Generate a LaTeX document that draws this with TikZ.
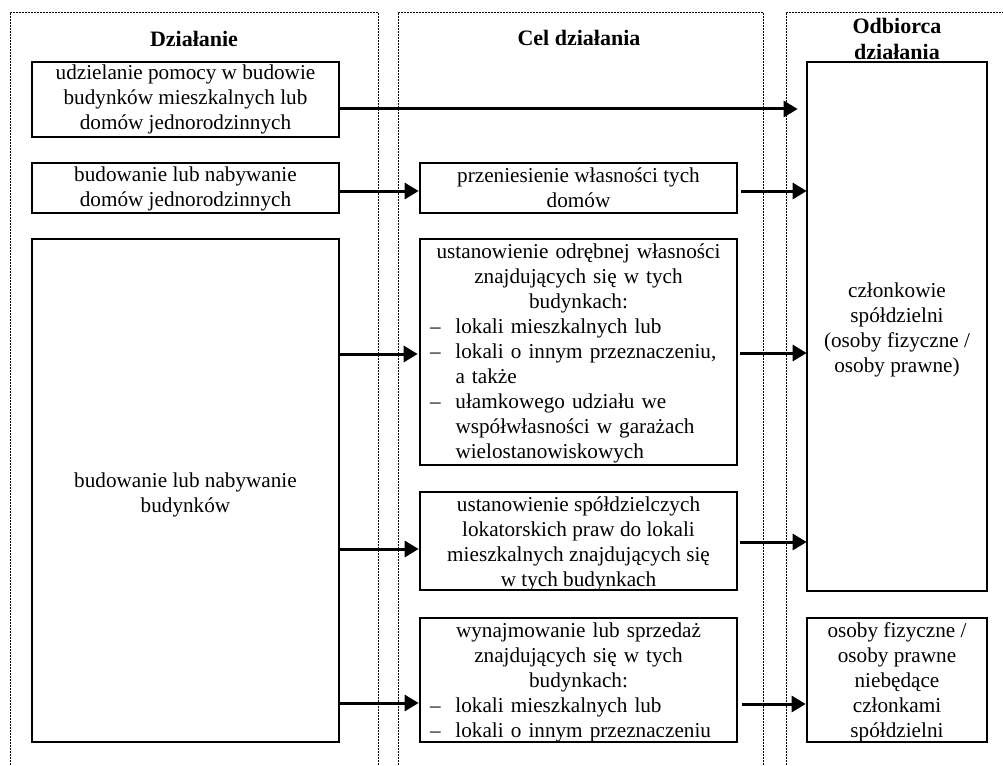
\documentclass[tikz,border=0pt]{standalone}
\usepackage{fontspec}
\setmainfont{Liberation Serif}
\usetikzlibrary{arrows.meta,calc}
\newcommand\listitem[1]{\makebox[300pt][l]{\hspace*{1.5pt}\makebox[25.5pt][l]{–}#1}}
\newcommand\listcont[1]{\makebox[300pt][l]{\hspace*{27pt}#1}}
\begin{document}
\begin{tikzpicture}[x=1pt,y=-1pt,
  box/.style={draw, line width=2.7pt, inner sep=0pt},
  txt/.style={inner sep=0pt, align=center, font=\fontsize{21.2}{25}\selectfont},
  head/.style={inner sep=0pt, align=center, font=\fontsize{22}{26}\selectfont\bfseries},
  arr/.style={line width=3pt, -{Triangle[length=14pt,width=16pt]}},
  col/.style={line width=0.9pt, dash pattern=on 2pt off 1pt}]
\useasboundingbox (0,0) rectangle (1003,765);
\fill[white] (0,0) rectangle (1003,765);

% columns
\draw[col] (10,765) -- (10,12) -- (378,12) -- (378,765);
\draw[col] (398,765) -- (398,12) -- (763,12) -- (763,765);
\draw[col] (786,765) -- (786,12) -- (1003,12);

% headers
\node[head] (h1) at (194,39) {Działanie};
\node[head] (h2) at (579,38) {Cel działania};
\node[head] (h3) at (897,38.5) {Odbiorca\\działania};

% left column
\node[box, minimum width=307pt, minimum height=75pt,
  label={[txt]center:{udzielanie pomocy w budowie\\budynków mieszkalnych lub\\domów jednorodzinnych}}]
  (A) at (185.5,99.5) {};
\node[box, minimum width=307pt, minimum height=50pt,
  label={[txt,yshift=-1pt]center:{budowanie lub nabywanie\\domów jednorodzinnych}}]
  (B) at (185.5,188) {};
\node[box, minimum width=307pt, minimum height=503pt,
  label={[txt,yshift=-4pt]center:{budowanie lub nabywanie\\budynków}}]
  (C) at (185.5,490.5) {};

% middle column
\node[box, minimum width=317pt, minimum height=50pt,
  label={[txt]center:{przeniesienie własności tych\\domów}}]
  (D) at (578.5,188) {};
\node[box, minimum width=317pt, minimum height=226pt,
  label={[txt,text width=300pt,yshift=-1pt]center:{ustanowienie odrębnej własności\\znajdujących się w tych\\budynkach:\\
   \listitem{lokali mieszkalnych lub}\\
   \listitem{lokali o innym przeznaczeniu,}\\
   \listcont{a także}\\
   \listitem{ułamkowego udziału we}\\
   \listcont{współwłasności w garażach}\\
   \listcont{wielostanowiskowych}}}]
  (E) at (578.5,352) {};
\node[box, minimum width=317pt, minimum height=98pt,
  label={[txt,yshift=-3pt]center:{ustanowienie spółdzielczych\\lokatorskich praw do lokali\\mieszkalnych znajdujących się\\w tych budynkach}}]
  (F) at (578.5,541) {};
\node[box, minimum width=317pt, minimum height=124pt,
  label={[txt,text width=300pt,yshift=-2pt]center:{wynajmowanie lub sprzedaż\\znajdujących się w tych\\budynkach:\\
   \listitem{lokali mieszkalnych lub}\\
   \listitem{lokali o innym przeznaczeniu}}}]
  (G) at (578.5,680) {};

% right column
\node[box, minimum width=180pt, minimum height=529pt,
  label={[txt,yshift=-3pt]center:{członkowie\\spółdzielni\\(osoby fizyczne /\\osoby prawne)}}]
  (H) at (897,326.5) {};
\node[box, minimum width=180pt, minimum height=124pt,
  label={[txt,yshift=-2pt]center:{osoby fizyczne /\\osoby prawne\\niebędące\\członkami\\spółdzielni}}]
  (I) at (897,680) {};

% connectors
\draw[arr] ($(A.east)+(0,9.5)$) -- ($(A.east -| H.west)+(-8,9.5)$);
\draw[arr] ($(B.east)+(0,3)$) -- ($(D.west)+(0,3)$);
\draw[arr] ($(D.east)+(3,3)$) -- ($(D.east -| H.west)+(1,3)$);
\draw[arr] ($(C.east |- E.west)+(0,2)$) -- ($(E.west)+(-1,2)$);
\draw[arr] ($(E.east)+(2,1)$) -- ($(E.east -| H.west)+(1,1)$);
\draw[arr] ($(C.east |- F.west)+(0,8)$) -- ($(F.west)+(0,8)$);
\draw[arr] ($(F.east)+(2,1)$) -- ($(F.east -| H.west)+(1,1)$);
\draw[arr] ($(C.east |- G.west)+(0,23)$) -- ($(G.west)+(0,23)$);
\draw[arr] ($(G.east)+(4,24)$) -- ($(I.west)+(0,24)$);
\end{tikzpicture}
\end{document}
